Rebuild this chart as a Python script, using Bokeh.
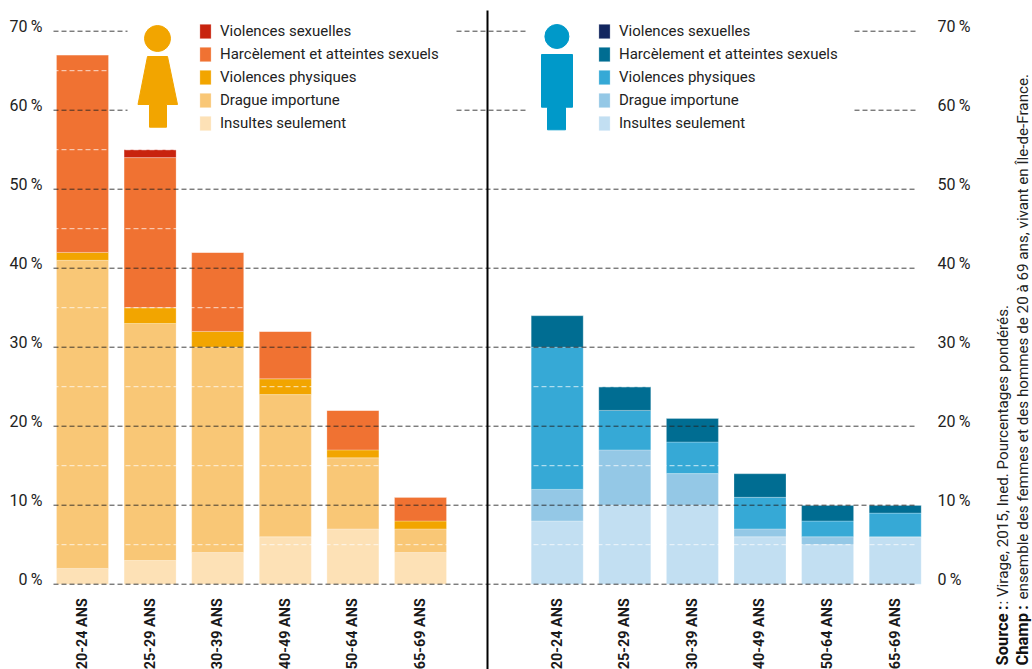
from bokeh.plotting import figure
from bokeh.embed import file_html
from bokeh.resources import INLINE
from bokeh.models import (Range1d, LinearAxis, FixedTicker, Legend, LegendItem, Label, ColumnDataSource)

ages = ["20-24 ANS", "25-29 ANS", "30-39 ANS", "40-49 ANS", "50-64 ANS", "65-69 ANS"]
categories = ["Insultes seulement", "Drague importune", "Violences physiques",
              "Harcèlement et atteintes sexuels", "Violences sexuelles"]

f_insultes = [2, 3, 4, 6, 7, 4]
f_drague = [39, 30, 26, 18, 9, 3]
f_physiques = [1, 2, 2, 2, 1, 1]
f_harcelement = [25, 19, 10, 6, 5, 3]
f_sexuelles = [0, 1, 0, 0, 0, 0]

h_insultes = [8, 10, 10, 6, 5, 6]
h_drague = [4, 7, 4, 1, 1, 0]
h_physiques = [18, 5, 4, 4, 2, 3]
h_harcelement = [4, 3, 3, 3, 2, 1]
h_sexuelles = [0, 0, 0, 0, 0, 0]

f_colors = ["#fde1b6", "#f9c776", "#f2a500", "#f07232", "#c8230e"]
h_colors = ["#c2dff2", "#94c8e6", "#36a9d6", "#006d92", "#12265f"]

major_ticks = [0, 10, 20, 30, 40, 50, 60, 70]
minor_ticks = [5, 15, 25, 35, 45, 55, 65]

W, H = 1032, 669
PITCH = 67.6
PX_PER_PCT = 7.9


def X(sx):  # screen px -> data
    return (sx - 82) / PITCH


def Y(sy):  # screen px -> data
    return (583.7 - sy) / PX_PER_PCT


p = figure(width=W, height=H, output_backend="svg", toolbar_location=None,
           x_range=Range1d(X(0), X(W)), y_range=Range1d(Y(H), Y(0)),
           x_axis_type=None, y_axis_type=None, min_border=0,
           outline_line_color=None, background_fill_color="white")
p.grid.visible = False

f_x = [float(i) for i in range(6)]
h_x = [i + X(556.7) for i in range(6)]
names = ["insultes", "drague", "physiques", "harcelement", "sexuelles"]


def stack(xs, series, colors):
    data = {"x": xs}
    data.update({n: s for n, s in zip(names, series)})
    return p.vbar_stack(names, x="x", width=52 / PITCH, source=ColumnDataSource(data),
                        color=colors, line_color="white", line_alpha=0.25, line_width=1)


f_r = stack(f_x, [f_insultes, f_drague, f_physiques, f_harcelement, f_sexuelles], f_colors)
h_r = stack(h_x, [h_insultes, h_drague, h_physiques, h_harcelement, h_sexuelles], h_colors)

# grid lines
x0, x1 = [], []
y_major = []
for v in major_ticks:
    if v >= 60:
        for a, b in [(53, 127), (456, 528), (854, 917)]:
            x0.append(X(a)); x1.append(X(b)); y_major.append(v)
    else:
        x0.append(X(53)); x1.append(X(917)); y_major.append(v)
p.segment(x0, y_major, x1, y_major, line_color="#222222", line_alpha=0.85, line_width=1, line_dash="5 3")
p.segment([X(53)] * len(minor_ticks), minor_ticks, [X(917)] * len(minor_ticks), minor_ticks,
          line_color="white", line_alpha=0.75, line_width=1, line_dash="5 3")

# central separator
p.segment([X(487)], [Y(10)], [X(487)], [Y(H)], line_color="black", line_width=2)

# icons
p.scatter([X(157)], [Y(38)], size=26, marker="circle", color="#f2a500")
p.patch([X(a) for a in (147, 167, 177, 166, 166, 149, 149, 137.5)],
        [Y(b) for b in (56, 56, 104, 104, 126.7, 126.7, 104, 104)], color="#f2a500")
p.scatter([X(556.4)], [Y(36)], size=24, marker="circle", color="#0099c9")
p.patch([X(a) for a in (541, 572, 572, 565, 565, 547, 547, 541)],
        [Y(b) for b in (54, 54, 106.7, 106.7, 129.3, 129.3, 106.7, 106.7)], color="#0099c9")

# value axes (own range, so the labels sit a little above their lines)
p.extra_y_ranges = {"labels": Range1d(Y(H) - 0.6, Y(0) - 0.6)}
overrides = {v: f"{v}\u2009%" for v in major_ticks}
for side, loc, standoff in (("left", X(53), 5), ("right", X(928), 3)):
    ax = LinearAxis(y_range_name="labels", ticker=FixedTicker(ticks=major_ticks),
                    major_label_overrides=overrides, fixed_location=loc,
                    axis_line_color=None, major_tick_line_color=None, minor_tick_line_color=None,
                    major_label_standoff=standoff, major_label_text_font="Roboto",
                    major_label_text_font_size="16px", major_label_text_color="#222222")
    p.add_layout(ax, side)

# age axis
ticks = f_x + h_x
xax = LinearAxis(ticker=FixedTicker(ticks=ticks),
                 major_label_overrides={t: ages[i % 6] for i, t in enumerate(ticks)},
                 fixed_location=0, axis_line_color=None, major_tick_line_color=None,
                 minor_tick_line_color=None, major_label_orientation=1.5707963,
                 major_label_standoff=8, major_label_text_font="Roboto",
                 major_label_text_font_style="bold", major_label_text_font_size="14.4px",
                 major_label_text_color="#1a1a1a")
p.add_layout(xax, "below")


# legends
def legend(renderers, sx):
    items = [LegendItem(label=c, renderers=[r]) for c, r in zip(categories[::-1], renderers[::-1])]
    lg = Legend(items=items, location=(sx, H - 22.2 - 110), orientation="vertical",
                background_fill_alpha=0, border_line_color=None, padding=0, margin=0, spacing=5,
                glyph_width=14, glyph_height=18, label_standoff=8, label_height=18,
                label_text_font="Roboto", label_text_font_size="15px", label_text_color="#222222",
                click_policy="none")
    p.add_layout(lg, "center")


legend(f_r, 198)
legend(h_r, 597)

# notes
notes = [("Source\u2009:", 1002, 665), ("Champ\u2009:", 1022, 665)]
tail = [(": Virage, 2015, Ined. Pourcentages pondérés.", 1002, 604),
        ("ensemble des femmes et des hommes de 20 à 69 ans, vivant en Île-de-France.", 1022, 599)]
for txt, sx, sy in notes:
    p.add_layout(Label(x=X(sx), y=Y(sy), text=txt, angle=1.5707963, text_font="Roboto", text_font_style="bold",
                       text_font_size="16.5px", text_color="#111111", text_baseline="middle"))
for txt, sx, sy in tail:
    p.add_layout(Label(x=X(sx), y=Y(sy), text=txt, angle=1.5707963, text_font="Roboto",
                       text_font_size="15.2px", text_color="#222222", text_baseline="middle"))

open("out.html", "w").write(file_html(p, INLINE))
